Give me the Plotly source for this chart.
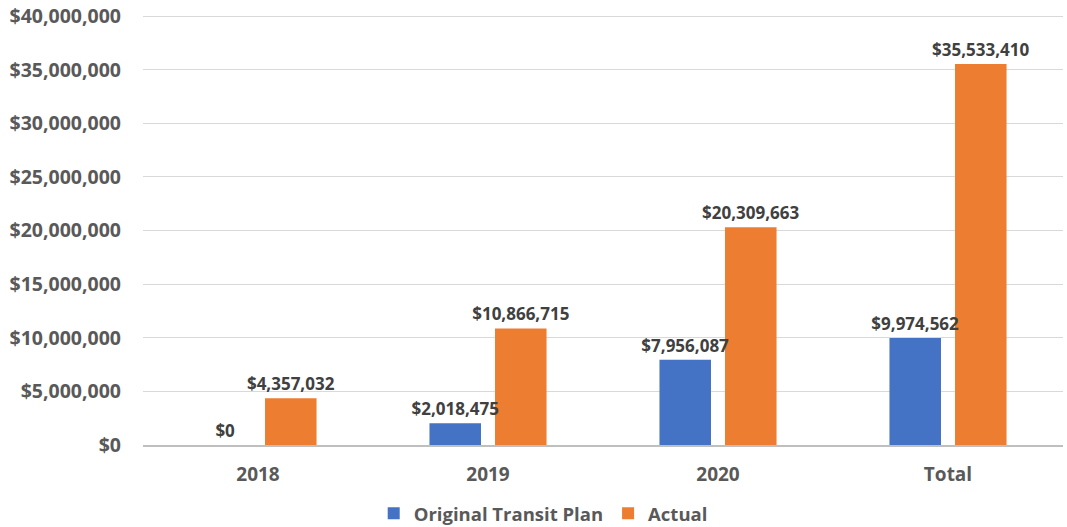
import plotly.graph_objects as go

categories = ["2018", "2019", "2020", "Total"]
original_plan = [0, 2018475, 7956087, 9974562]
actual = [4357032, 10866715, 20309663, 35533410]
series_names = ["Original Transit Plan", "Actual"]
colors = ["#4472C4", "#ED7D31"]

FONT = "Open Sans, Liberation Sans, sans-serif"
BAR_W = 0.224
GAP = 0.061
offsets = [-(BAR_W + GAP / 2), GAP / 2]

def fmt(v):
    return "${:,.0f}".format(v)

fig = go.Figure()
series = [original_plan, actual]
# bars
for name, vals, col, off in zip(series_names, series, colors, offsets):
    fig.add_trace(go.Bar(
        x=categories, y=vals, name=name,
        marker=dict(color=col, line=dict(width=0)),
        width=BAR_W, offset=off, hoverinfo="skip",
    ))
# labels drawn on top of all bars
for name, vals, off in zip(series_names, series, offsets):
    fig.add_trace(go.Bar(
        x=categories, y=vals, showlegend=False,
        marker=dict(color="rgba(0,0,0,0)", line=dict(width=0)),
        width=BAR_W, offset=off, hoverinfo="skip",
        text=[fmt(v) for v in vals], textposition="outside",
        textfont=dict(family=FONT, size=17, color="#404040", weight="bold"),
        cliponaxis=False, constraintext="none",
    ))

fig.update_layout(
    width=1067, height=527,
    margin=dict(l=143, r=4, t=15, b=82, autoexpand=False),
    paper_bgcolor="white", plot_bgcolor="white",
    barmode="overlay",
    font=dict(family=FONT, color="#595959"),
    showlegend=True,
    legend=dict(orientation="h", x=0.435, xanchor="center", y=-0.16, yanchor="middle",
                font=dict(family=FONT, size=18.5, color="#595959", weight="bold"),
                itemwidth=30, traceorder="normal"),
)
fig.update_xaxes(
    showgrid=False, showline=True, linecolor="#bfbfbf", linewidth=2,
    tickfont=dict(family=FONT, size=19, color="#595959", weight="bold"),
    ticks="", ticklabelstandoff=11, automargin=False,
)
fig.update_yaxes(
    range=[0, 40100000], tick0=0, dtick=5000000, tickprefix="$", tickformat=",",
    showgrid=True, gridcolor="#d9d9d9", gridwidth=1, zeroline=False,
    tickfont=dict(family=FONT, size=19.5, color="#595959", weight="bold"),
    ticks="", ticklabelstandoff=21, automargin=False, ticklabeloverflow="allow",
)

fig.write_html("out.html", config={"displayModeBar": False},
               post_script="document.body.style.margin='0';")
